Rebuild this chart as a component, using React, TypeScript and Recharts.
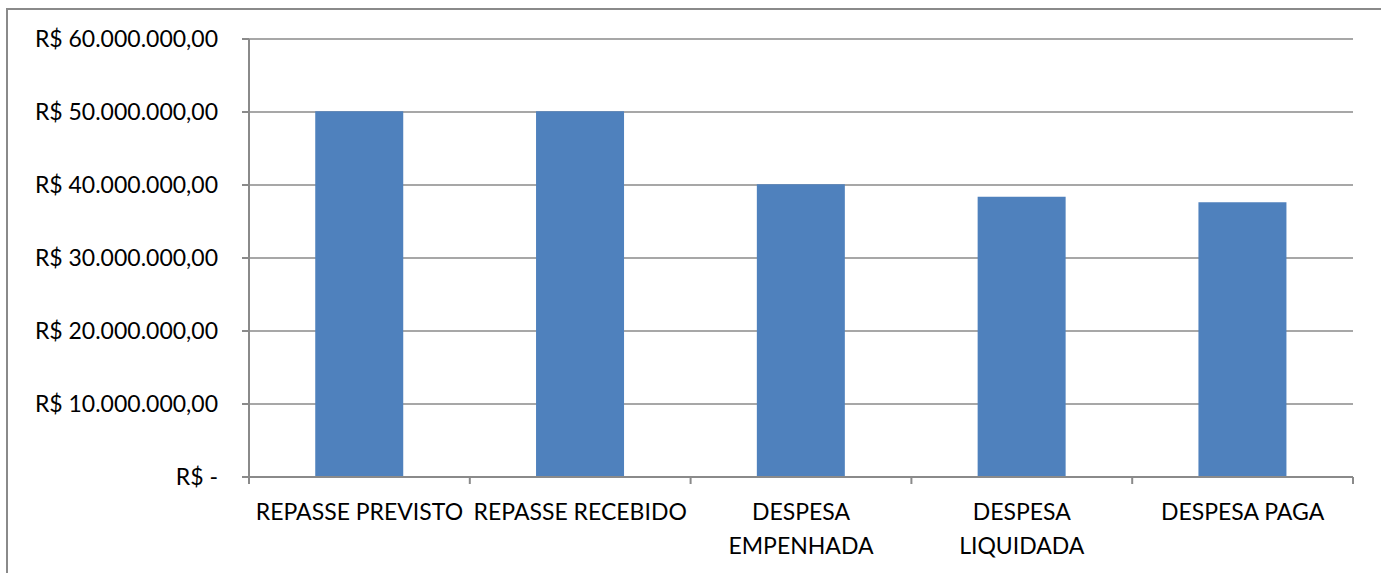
import React from 'react';
import { BarChart, Bar, XAxis, YAxis, CartesianGrid } from 'recharts';

// categorias e valores
const categorias = ['REPASSE PREVISTO', 'REPASSE RECEBIDO', 'DESPESA EMPENHADA', 'DESPESA LIQUIDADA', 'DESPESA PAGA'];
const valores = [50100000, 50100000, 40100000, 38400000, 37650000];
const ticksY = [0, 10000000, 20000000, 30000000, 40000000, 50000000, 60000000];

const data = categorias.map((nome, i) => ({ nome, valor: valores[i] }));

const W = 1381;
const H = 573;
const margin = { top: 39, right: 28, left: 0, bottom: 16 };
const eixoYLargura = 249;
const larguraPlot = W - margin.left - margin.right - eixoYLargura;
const meiaBanda = larguraPlot / categorias.length / 2;
const fonte = 'Lato, "Open Sans", sans-serif';
const tamFonte = 23;
const cinza = '#8a8a8a';

const formatCurrency = (v: number) => {
  if (v === 0) return 'R$ -';
  const inteiro = Math.round(v).toString().replace(/\B(?=(\d{3})+(?!\d))/g, '.');
  return `R$ ${inteiro},00`;
};

const XTick = (props: any) => {
  const { x, y, payload, index } = props;
  const texto: string = payload.value;
  const linhas = texto.length > 16 ? texto.split(' ') : [texto];
  return (
    <g>
      <line x1={x - meiaBanda} x2={x - meiaBanda} y1={y - 8} y2={y - 1} stroke={cinza} strokeWidth={2} />
      {index === categorias.length - 1 && (
        <line x1={x + meiaBanda} x2={x + meiaBanda} y1={y - 8} y2={y - 1} stroke={cinza} strokeWidth={2} />
      )}
      <text x={x} y={y} textAnchor="middle" fill="#000" fontSize={tamFonte} fontFamily={fonte}>
        {linhas.map((l, i) => (
          <tspan key={i} x={x} dy={i === 0 ? 35 : 34}>{l}</tspan>
        ))}
      </text>
    </g>
  );
};

const App: React.FC = () => {
  return (
    <div style={{ position: 'absolute', left: 0, top: 0, width: W, height: H, background: '#fff', overflow: 'hidden' }}>
      <div
        style={{
          position: 'absolute',
          left: 6,
          top: 8,
          width: W,
          height: H,
          border: `2px solid ${cinza}`,
          boxSizing: 'border-box',
        }}
      />
      <BarChart
        width={W}
        height={H}
        data={data}
        margin={margin}
        barCategoryGap="30%"
        style={{ position: 'absolute', left: 0, top: 0 }}
      >
        <CartesianGrid vertical={false} stroke={cinza} strokeWidth={1.5} />
        <XAxis
          dataKey="nome"
          height={80}
          axisLine={{ stroke: cinza, strokeWidth: 2 }}
          tickLine={false}
          tick={<XTick />}
          interval={0}
        />
        <YAxis
          width={eixoYLargura}
          domain={[0, 60000000]}
          ticks={ticksY}
          tickFormatter={formatCurrency}
          axisLine={{ stroke: cinza, strokeWidth: 2 }}
          tickLine={{ stroke: cinza, strokeWidth: 2 }}
          tickSize={7}
          tickMargin={24}
          tick={{ fill: '#000', fontSize: tamFonte, fontFamily: fonte }}
        />
        <Bar dataKey="valor" fill="#4F81BD" isAnimationActive={false} />
      </BarChart>
    </div>
  );
};

export default App;
